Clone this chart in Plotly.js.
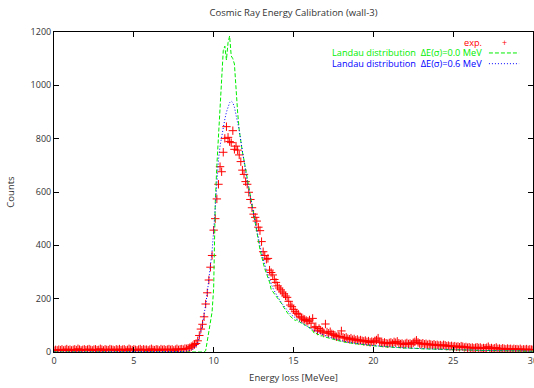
<!DOCTYPE html>
<html>
<head>
<meta charset="utf-8">
<script src="https://cdn.plot.ly/plotly-3.0.1.min.js"></script>
<style>html,body{margin:0;padding:0;background:#fff;}#chart{width:534px;height:388px;}</style>
</head>
<body>
<div id="chart"></div>
<script>
// Energy bins: 0.0 .. 30.0 MeVee, 0.1 MeVee wide
const binWidth = 0.1;
const nBins = 301;
const energy = Array.from({length: nBins}, (_, i) => +(i * binWidth).toFixed(1));

// Measured counts (exp.)
const expCounts = [
  5,8,6,9,7,10,6,8,11,7,
  9,6,8,10,7,12,9,6,8,10,
  7,9,11,8,6,9,10,7,8,12,
  9,6,10,8,7,11,9,8,6,10,
  8,11,7,9,10,6,8,12,9,7,
  10,8,6,9,11,7,10,8,9,6,
  9,12,8,7,10,9,6,11,8,10,
  7,9,11,8,10,6,9,12,8,10,
  11,9,13,12,14,16,20,24,28,32,
  42,62,86,104,132,180,222,270,318,362,
  457,500,574,629,695,676,749,801,845,805,
  789,785,830,760,772,757,739,714,682,666,
  639,629,599,572,541,517,505,491,468,455,
  414,376,362,348,351,307,298,289,272,261,
  248,240,233,225,218,210,205,190,176,170,
  160,151,145,142,132,128,124,122,118,115,
  120,108,126,91,95,79,88,82,78,72,
  105,75,70,76,68,65,62,57,60,58,
  79,55,52,55,50,48,52,46,49,44,
  47,42,45,42,40,43,38,41,36,39,
  37,42,45,52,38,35,33,36,33,31,
  34,36,32,38,35,40,33,30,32,28,
  31,34,30,32,29,35,38,44,36,32,
  30,33,29,31,27,30,28,26,29,25,
  27,24,26,23,27,25,22,24,21,23,
  20,22,19,21,18,22,20,17,19,16,
  18,15,17,14,16,18,15,17,13,15,
  14,16,20,13,15,12,14,17,12,13,
  11,14,12,10,13,11,12,9,12,10,
  11,9,12,8,10,9,11,8,10,9,
  8
];

// Landau distribution, dE(sigma) = 0.0 MeV
const landau00 = [
  0,0,0,0,0,0,0,0,0,0,
  0,0,0,0,0,0,0,0,0,0,
  0,0,0,0,0,0,0,0,0,0,
  0,0,0,0,0,0,0,0,0,0,
  0,0,0,0,0,0,0,0,0,0,
  0,0,0,0,0,0,0,0,0,0,
  0,0,0,0,0,0,0,0,0,0,
  0,0,0,0,0,0,0,0,0,0,
  0,0,0,0,0,0,0,0,0,0,
  0,0,0,0,0,5,40,85,115,150,
  240,560,700,800,890,990,1130,1147,1095,1160,
  1185,1110,1100,1080,980,900,832,785,750,720,
  685,650,612,577,545,515,482,450,418,385,
  355,335,312,296,278,262,235,228,218,210,
  202,195,186,178,166,156,148,140,134,128,
  124,118,121,112,114,106,108,100,101,94,
  92,82,80,70,72,65,66,60,61,56,
  56,54,53,51,49,47,45,44,42,41,
  40,38,38,36,35,34,34,32,31,31,
  30,29,28,28,27,26,26,25,25,24,
  23,23,22,22,21,21,20,20,19,19,
  19,18,18,18,17,17,16,16,16,15,
  15,15,15,14,14,14,13,13,13,13,
  12,12,12,12,11,11,11,11,11,10,
  10,10,10,10,10,9,9,9,9,9,
  9,8,8,8,8,8,8,7,7,7,
  7,7,7,7,6,6,6,6,6,6,
  6,6,5,5,5,5,5,5,5,5,
  5,5,5,4,4,4,4,4,4,4,
  4,4,4,4,3,3,3,3,3,3,
  3
];

// Landau distribution, dE(sigma) = 0.6 MeV
const landau06 = [
  0,0,0,0,0,0,0,0,0,0,
  0,0,0,0,0,0,0,0,0,0,
  0,0,0,0,0,0,0,0,0,0,
  0,0,0,0,0,0,0,0,0,0,
  0,0,0,0,0,0,0,0,0,0,
  0,0,0,0,0,0,0,0,0,0,
  0,0,0,0,0,0,0,0,0,0,
  0,0,0,0,0,0,0,0,0,0,
  0,1,2,3,4,6,8,11,15,22,
  36,55,78,105,138,178,222,272,322,378,
  455,545,655,720,772,810,845,873,900,922,
  935,941,935,918,890,860,832,792,750,708,
  672,640,610,578,547,516,486,456,426,399,
  372,348,326,306,288,270,255,241,229,218,
  208,198,189,180,172,163,156,150,143,138,
  133,128,123,118,114,110,106,102,98,95,
  91,88,84,80,77,74,71,68,66,63,
  60,58,56,54,52,50,48,47,45,44,
  42,41,40,38,37,36,35,34,33,32,
  31,30,30,29,28,27,27,26,25,25,
  24,24,23,23,22,22,21,21,20,20,
  19,19,19,18,18,17,17,17,16,16,
  16,15,15,15,14,14,14,14,13,13,
  13,13,12,12,12,12,11,11,11,11,
  11,10,10,10,10,10,10,9,9,9,
  9,9,9,8,8,8,8,8,8,7,
  7,7,7,7,7,7,6,6,6,6,
  6,6,6,6,6,5,5,5,5,5,
  5,5,5,5,5,4,4,4,4,4,
  4,4,4,4,4,4,3,3,3,3,
  3
];

const seriesNames = ['exp.', 'Landau distribution  ΔE(σ)=0.0 MeV', 'Landau distribution  ΔE(σ)=0.6 MeV'];
const seriesColors = ['#ff0000', '#00ee00', '#0000ff'];

const font = '"Open Sans", "DejaVu Sans", sans-serif';

const traces = [
  {x: energy, y: expCounts, type: 'scatter', mode: 'markers', name: seriesNames[0],
   marker: {symbol: 'cross-thin', size: 6, color: seriesColors[0], line: {color: seriesColors[0], width: 1}}},
  {x: energy, y: landau00, type: 'scatter', mode: 'lines', name: seriesNames[1],
   line: {color: seriesColors[1], width: 1, dash: '4px,2px'}},
  {x: energy, y: landau06, type: 'scatter', mode: 'lines', name: seriesNames[2],
   line: {color: seriesColors[2], width: 1, dash: '1px,2px'}}
];

const legY = [0.9666, 0.9345, 0.9010];
const legTextX = 0.8956;
const legSampleX = [0.908, 0.971];

const annotations = seriesNames.map((n, i) => ({
  xref: 'paper', yref: 'paper', x: legTextX, y: legY[i], xanchor: 'right', yanchor: 'middle',
  text: n, showarrow: false, borderpad: 0, font: {family: font, size: 9.2, color: seriesColors[i]}
}));
annotations.push({
  xref: 'paper', yref: 'paper', x: (legSampleX[0] + legSampleX[1]) / 2, y: legY[0],
  xanchor: 'center', yanchor: 'middle', text: '+', showarrow: false, borderpad: 0,
  font: {family: font, size: 9, color: seriesColors[0]}
});
const shapes = [1, 2].map(i => ({
  type: 'line', xref: 'paper', yref: 'paper', x0: legSampleX[0], x1: legSampleX[1], y0: legY[i], y1: legY[i],
  line: {color: seriesColors[i], width: 1, dash: traces[i].line.dash}
}));

const axisCommon = {
  showline: true, linecolor: '#000', linewidth: 1, mirror: 'ticks',
  ticks: 'inside', ticklen: 5, tickcolor: '#000', tickwidth: 1,
  showgrid: false, zeroline: false, ticklabeloverflow: 'allow',
  tickfont: {family: font, size: 9, color: '#333'}
};

const layout = {
  width: 534, height: 388,
  margin: {l: 54, r: 1, t: 32, b: 36},
  paper_bgcolor: '#fff', plot_bgcolor: '#fff',
  showlegend: false,
  title: {text: 'Cosmic Ray Energy Calibration (wall-3)', font: {family: font, size: 9.5, color: '#333'},
          x: 0.5, xref: 'paper', y: 1 - 13 / 388, yanchor: 'middle'},
  xaxis: Object.assign({}, axisCommon, {range: [0, 30], tick0: 0, dtick: 5,
    title: {text: 'Energy loss [MeVee]', font: {family: font, size: 9.5, color: '#333'}, standoff: 8}}),
  yaxis: Object.assign({}, axisCommon, {range: [0, 1200], tick0: 0, dtick: 200,
    title: {text: 'Counts', font: {family: font, size: 9.5, color: '#333'}, standoff: 14}}),
  annotations: annotations,
  shapes: shapes
};

Plotly.newPlot('chart', traces, layout, {staticPlot: true, displayModeBar: false});
</script>
</body>
</html>
